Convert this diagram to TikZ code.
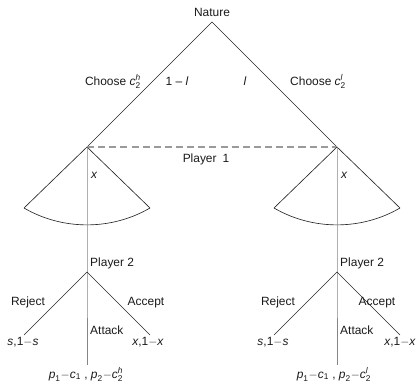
\documentclass[tikz,border=0pt]{standalone}
\usepackage{amsmath}
\usepackage{fontspec}
\setmainfont{Liberation Sans}
\usepackage{tikz}
\usetikzlibrary{positioning,calc}
\definecolor{cedge}{HTML}{262626}
\definecolor{cstem}{HTML}{858585}
\definecolor{cdash}{HTML}{9A9A9A}
\definecolor{cink}{HTML}{1A1A1A}
\tikzset{
  edge/.style={cedge,line width=0.55pt},
  stem/.style={cstem,line width=0.85pt},
  infoset/.style={cdash,line width=0.9pt,dash pattern=on 6pt off 3.5pt},
  lbl/.style={font=\fontsize{10.2}{12}\selectfont,text=cink,inner sep=0pt}
}
\newcommand{\vv}[1]{\textit{#1}}
\newcommand{\ctwo}[1]{$\textit{c}_{\text{2}}^{\textit{#1}}$}
\newcommand{\vsub}[2]{$\textit{#1}_{\text{#2}}$}

\begin{document}
\begin{tikzpicture}[x=0.03cm,y=-0.03cm]
\useasboundingbox (0,0) rectangle (416,383);

% ---- Nature's move ----
\coordinate (nat) at (212,22);
\coordinate (hi) at (87,147);
\coordinate (lo) at (337,147);
\node[lbl,anchor=south] (natlbl) at (212,17) {Nature};
\draw[edge] (hi) -- (nat) -- (lo);
\node[lbl,anchor=base east] (chh) at (141,85) {Choose \ctwo{h}};
\node[lbl,anchor=base] (prh) at (177,85) {1 -- \vv{l}};
\node[lbl,anchor=base] (prl) at (245,85) {\vv{l}};
\node[lbl,anchor=base west] (chl) at (290,85) {Choose \ctwo{l}};

% ---- Player 1: offer x (one information set) ----
\draw[infoset] (hi) -- (lo);
\node[lbl,anchor=base] (pone) at (206,162) {Player\enspace 1};
\foreach \v/\n in {hi/hi,lo/lo} {
  \coordinate (\n a) at ($(\v)+(-63,61)$);
  \coordinate (\n b) at ($(\v)+(63,61)$);
  \draw[edge] (\n a) -- (\v) -- (\n b);
  \draw[edge] (\n a) .. controls ($(\n a)+(38.6,22.5)$) and ($(\n b)+(-38.6,22.5)$) .. (\n b);
}
\node[lbl,anchor=base west] (xh) at (91,178) {\vv{x}};
\node[lbl,anchor=base west] (xl) at (341,178) {\vv{x}};

% ---- Player 2 after c2^h ----
\coordinate (ph) at (87,272);
\coordinate (rh) at (24,335);
\coordinate (ah) at (150,335);
\coordinate (th) at (87,365);
\draw[stem] (hi) -- (ph) -- (th);
\draw[edge] (rh) -- (ph) -- (ah);
\node[lbl,anchor=base west] (pth) at (90,266) {Player 2};
\node[lbl,anchor=base] (rjh) at (28,305) {Reject};
\node[lbl,anchor=base] (ach) at (146,305) {Accept};
\node[lbl,anchor=base west] (ath) at (90,334) {Attack};
\node[lbl,anchor=base] (srh) at (23,345) {\vv{s},1$-$\vv{s}};
\node[lbl,anchor=base] (xrh) at (148,345) {\vv{x},1$-$\vv{x}};
\node[lbl,anchor=base] (pah) at (86,378) {\vsub{p}{1}$-$\vsub{c}{1} , \vsub{p}{2}$-$\ctwo{h}};

% ---- Player 2 after c2^l ----
\coordinate (pl) at (337,272);
\coordinate (rl) at (274,335);
\coordinate (al) at (400,335);
\coordinate (tl) at (337,365);
\draw[stem] (lo) -- (pl) -- (tl);
\draw[edge] (rl) -- (pl) -- (al);
\node[lbl,anchor=base west] (ptl) at (340,266) {Player 2};
\node[lbl,anchor=base] (rjl) at (278,305) {Reject};
\node[lbl,anchor=base] (acl) at (377,305) {Accept};
\node[lbl,anchor=base west] (atl) at (340,334) {Attack};
\node[lbl,anchor=base] (srl) at (273,345) {\vv{s},1$-$\vv{s}};
\node[lbl,anchor=base east] (xrl) at (416,345) {\vv{x},1$-$\vv{x}};
\node[lbl,anchor=base] (pal) at (334,378) {\vsub{p}{1}$-$\vsub{c}{1} , \vsub{p}{2}$-$\ctwo{l}};

\end{tikzpicture}
\end{document}
